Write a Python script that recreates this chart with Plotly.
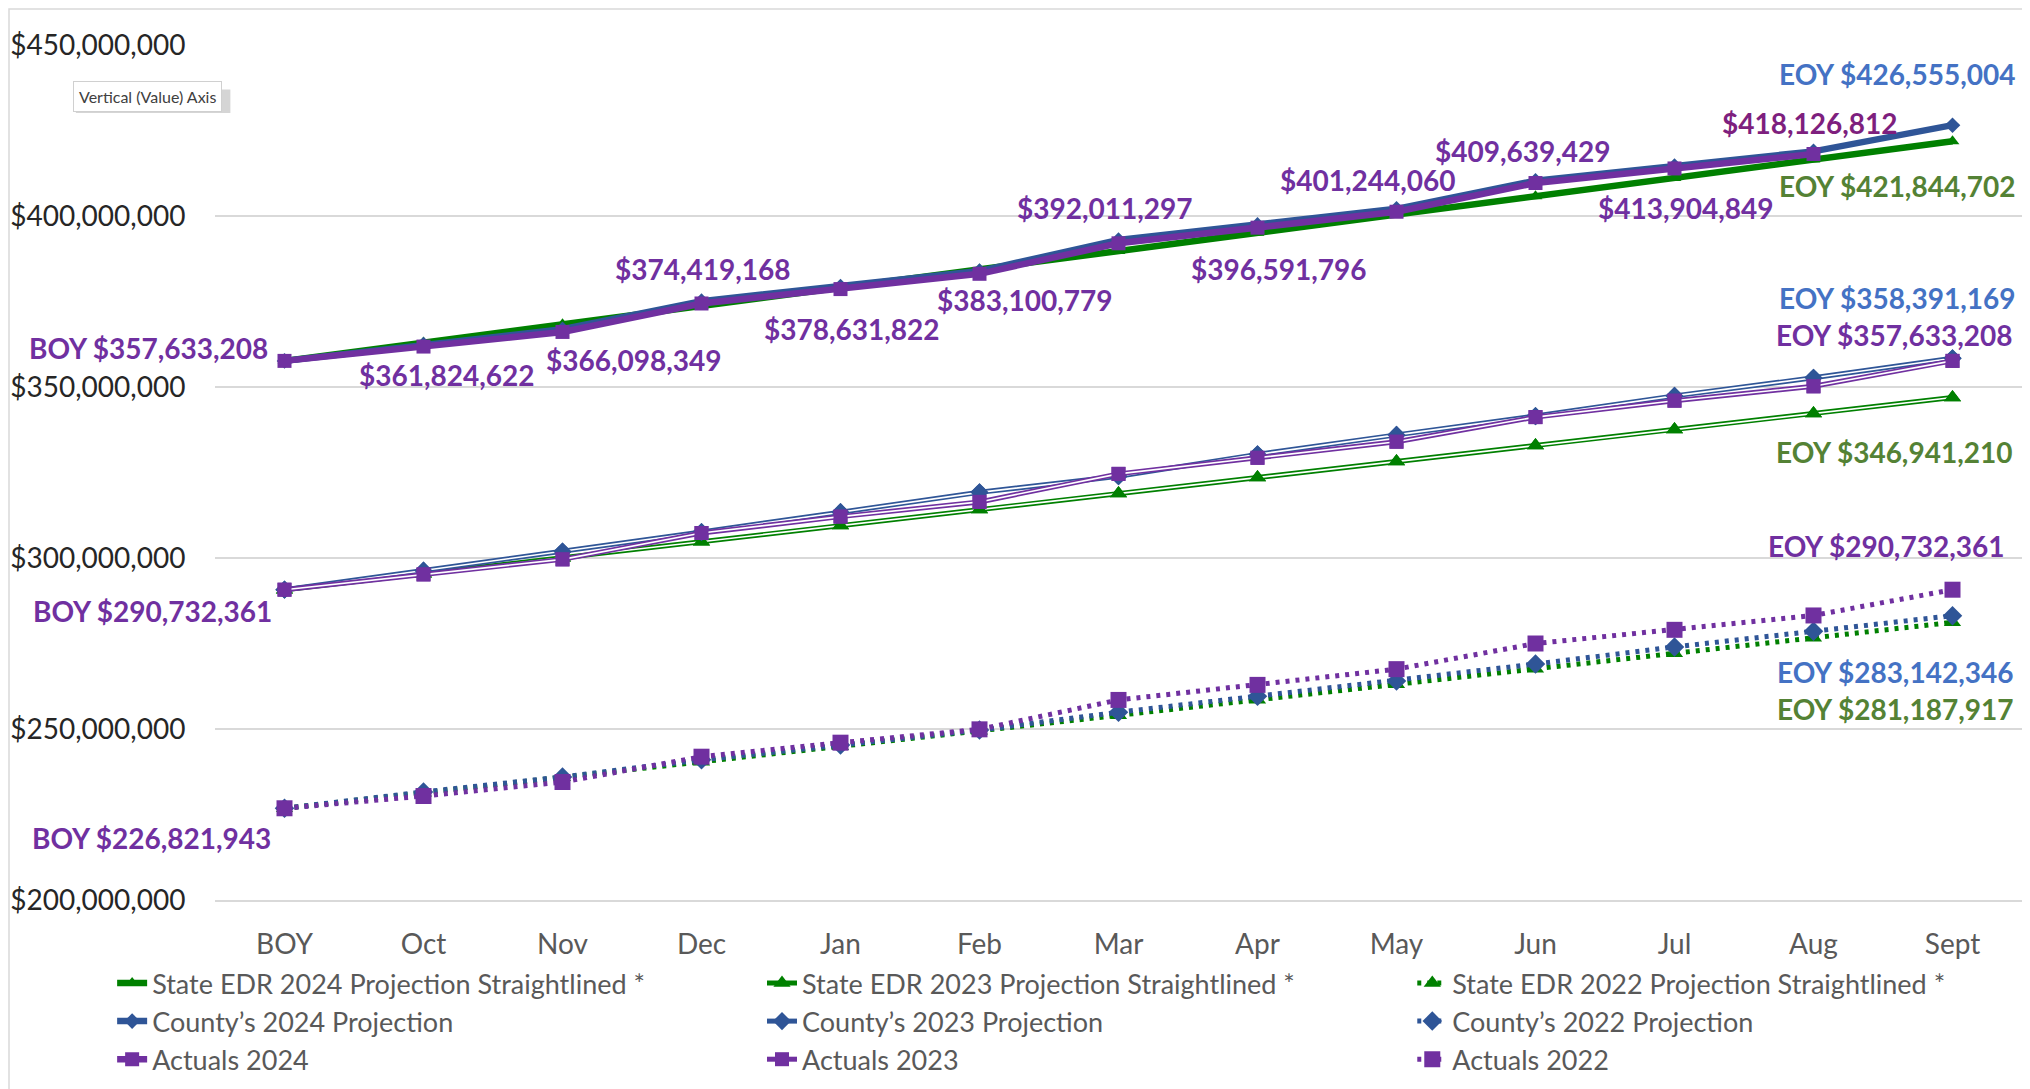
import plotly.graph_objects as go

# ---------------- data ----------------
months = ["BOY", "Oct", "Nov", "Dec", "Jan", "Feb", "Mar", "Apr", "May", "Jun", "Jul", "Aug", "Sept"]

state_2024 = [357633208, 362980000, 368330000, 373680000, 379030000, 384380000, 389730000,
              395080000, 400430000, 405780000, 411140000, 416490000, 421844702]
county_2024 = [357633208, 362400000, 366900000, 375100000, 379400000, 383900000, 393000000,
               397400000, 402100000, 410300000, 414600000, 418900000, 426555004]
actual_2024 = [357633208, 361824622, 366098349, 374419168, 378631822, 383100779, 392011297,
               396591796, 401244060, 409639429, 413904849, 418126812, None]

state_2023 = [290732361, 295420000, 300100000, 304780000, 309470000, 314150000, 318840000,
              323520000, 328210000, 332890000, 337570000, 342260000, 346941210]
county_2023 = [290732361, 296300000, 301900000, 307600000, 313400000, 319200000, 323900000,
               330300000, 336000000, 341500000, 347400000, 352700000, 358391169]
actual_2023 = [290732361, 295200000, 299600000, 307300000, 312100000, 316400000, 324600000,
               329300000, 334000000, 341200000, 346000000, 350200000, 357633208]

state_2022 = [226821943, 231350000, 235880000, 240410000, 244940000, 249470000, 254000000,
              258530000, 263060000, 267600000, 272130000, 276660000, 281187917]
county_2022 = [226821943, 231600000, 236000000, 241000000, 245300000, 249700000, 254900000,
               259600000, 264000000, 269000000, 274000000, 278600000, 283142346]
actual_2022 = [226821943, 230400000, 234500000, 241900000, 246000000, 249900000, 258500000,
               262900000, 267500000, 275000000, 279000000, 283200000, 290732361]

y_ticks = [200000000, 250000000, 300000000, 350000000, 400000000, 450000000]

# ---------------- styles ----------------
GREEN = "#008000"
BLUE = "#2F5597"
PURPLE = "#7030A0"
L_PURPLE = "#7030A0"
L_BLUE = "#4472C4"
L_GREEN = "#548235"
L_MAGENTA = "#7E1F7E"
FONT = "Lato, 'Open Sans', sans-serif"

fig = go.Figure()


def add_series(name, y, color, symbol, style, legend, msize):
    if style == "thick":
        fig.add_trace(go.Scatter(x=months, y=y, name=name, mode="lines+markers",
                                 line=dict(color=color, width=6.5),
                                 marker=dict(symbol=symbol, size=msize, color=color),
                                 legend=legend, connectgaps=False))
    elif style == "double":
        fig.add_trace(go.Scatter(x=months, y=y, name=name, mode="lines+markers",
                                 line=dict(color=color, width=5),
                                 marker=dict(symbol=symbol, size=msize, color=color),
                                 legend=legend))
        fig.add_trace(go.Scatter(x=months, y=y, mode="lines", showlegend=False,
                                 line=dict(color="white", width=1.6), hoverinfo="skip"))
        fig.add_trace(go.Scatter(x=months, y=y, mode="markers", showlegend=False,
                                 marker=dict(symbol=symbol, size=msize, color=color),
                                 hoverinfo="skip"))
    else:
        fig.add_trace(go.Scatter(x=months, y=y, name=name, mode="lines+markers",
                                 line=dict(color=color, width=5, dash="4px,6px"),
                                 marker=dict(symbol=symbol, size=msize, color=color),
                                 legend=legend))


add_series("State EDR 2024 Projection Straightlined *", state_2024, GREEN, "triangle-up", "thick", "legend", 12)
add_series("State EDR 2023 Projection Straightlined *", state_2023, GREEN, "triangle-up", "double", "legend2", 15)
add_series("State EDR 2022 Projection Straightlined *", state_2022, GREEN, "triangle-up", "dot", "legend3", 15)
add_series("County’s 2024 Projection", county_2024, BLUE, "diamond", "thick", "legend", 12)
add_series("County’s 2023 Projection", county_2023, BLUE, "diamond", "double", "legend2", 14)
add_series("County’s 2022 Projection", county_2022, BLUE, "diamond", "dot", "legend3", 15)
add_series("Actuals 2024", actual_2024, PURPLE, "square", "thick", "legend", 14)
add_series("Actuals 2023", actual_2023, PURPLE, "square", "double", "legend2", 14)
add_series("Actuals 2022", actual_2022, PURPLE, "square", "dot", "legend3", 16)

# ---------------- data labels ----------------
# (series, index, prefix, colour, xanchor, xshift, yshift)
labels = [
    (actual_2024, 0, "BOY ", L_PURPLE, "right", -15, 13),
    (actual_2024, 1, "", L_PURPLE, "center", 23, -28),
    (actual_2024, 2, "", L_PURPLE, "center", 71, -28),
    (actual_2024, 3, "", L_PURPLE, "center", 1, 34),
    (actual_2024, 4, "", L_PURPLE, "center", 11, -40),
    (actual_2024, 5, "", L_PURPLE, "center", 45, -26),
    (actual_2024, 6, "", L_PURPLE, "center", -14, 35),
    (actual_2024, 7, "", L_PURPLE, "center", 21, -41),
    (actual_2024, 8, "", L_PURPLE, "center", -29, 32),
    (actual_2024, 9, "", L_PURPLE, "center", -13, 32),
    (actual_2024, 10, "", L_PURPLE, "center", 11, -40),
    (actual_2024, 11, "", L_MAGENTA, "center", -4, 31),
    (county_2024, 12, "EOY ", L_BLUE, "right", 64, 51),
    (state_2024, 12, "EOY ", L_GREEN, "right", 64, -45),
    (county_2023, 12, "EOY ", L_BLUE, "right", 64, 60),
    (actual_2023, 12, "EOY ", L_PURPLE, "right", 61, 26),
    (state_2023, 12, "EOY ", L_GREEN, "right", 61, -55),
    (actual_2023, 0, "BOY ", L_PURPLE, "right", -11, -21),
    (actual_2022, 12, "EOY ", L_PURPLE, "right", 53, 44),
    (county_2022, 12, "EOY ", L_BLUE, "right", 62, -56),
    (state_2022, 12, "EOY ", L_GREEN, "right", 62, -87),
    (actual_2022, 0, "BOY ", L_PURPLE, "right", -12, -30),
]

annotations = []
for series, i, prefix, col, xa, xs, ys in labels:
    v = series[i]
    annotations.append(dict(
        x=months[i], y=v, xref="x", yref="y", showarrow=False,
        text=f"{prefix}${v:,.0f}", xanchor=xa, yanchor="middle",
        xshift=xs, yshift=ys,
        font=dict(family=FONT, size=28, color=col, weight="bold"),
    ))

# Excel tooltip artefact
annotations.append(dict(
    x=-0.0376, y=0.9398, xref="paper", yref="paper", showarrow=False,
    text="Vertical (Value) Axis", xanchor="center", yanchor="middle",
    font=dict(family=FONT, size=16, color="#404040"),
    bgcolor="white", bordercolor="#D0D0D0", borderwidth=1, borderpad=5,
))

shapes = [
    # tooltip shadow
    dict(type="rect", xref="paper", yref="paper", x0=-0.0770, x1=0.0085, y0=0.9205, y1=0.9480,
         fillcolor="rgba(150,150,150,0.4)", line=dict(width=0), layer="above"),
    # chart-area border
    dict(type="rect", xref="paper", yref="paper", x0=-0.1140, x1=1.0022, y0=-0.2300, y1=1.0421,
         line=dict(color="#D9D9D9", width=1.5), fillcolor="rgba(0,0,0,0)", layer="below"),
]

legend_common = dict(
    xref="container", yref="container", xanchor="left", yanchor="top", y=0.1203,
    orientation="v", bgcolor="rgba(0,0,0,0)",
    font=dict(family=FONT, size=27, color="#595959"),
    tracegroupgap=0, itemsizing="trace",
)

fig.update_layout(
    width=2022, height=1081,
    margin=dict(l=207, r=8, t=37, b=189, autoexpand=False),
    paper_bgcolor="white", plot_bgcolor="white",
    font=dict(family=FONT),
    showlegend=True,
    legend=dict(x=0.0515, **legend_common),
    legend2=dict(x=0.3729, **legend_common),
    legend3=dict(x=0.6945, **legend_common),
    annotations=annotations,
    shapes=shapes,
    hovermode=False,
)

fig.update_xaxes(
    type="category", range=[-0.5, 12.5], automargin=False, tickangle=0,
    showgrid=False, zeroline=False,
    showline=True, linecolor="#D9D9D9", linewidth=1.5,
    ticks="outside", ticklen=19, tickcolor="rgba(0,0,0,0)",
    tickfont=dict(family=FONT, size=28, color="#595959"),
)
fig.update_yaxes(
    range=[200000000, 450000000], tickvals=y_ticks, automargin=False,
    tickformat="$,.0f",
    showgrid=True, gridcolor="#D9D9D9", gridwidth=1.5,
    zeroline=False, showline=False,
    ticks="outside", ticklen=23, tickcolor="rgba(0,0,0,0)",
    tickfont=dict(family=FONT, size=28, color="#262626"),
)

fig.write_html("out.html")
